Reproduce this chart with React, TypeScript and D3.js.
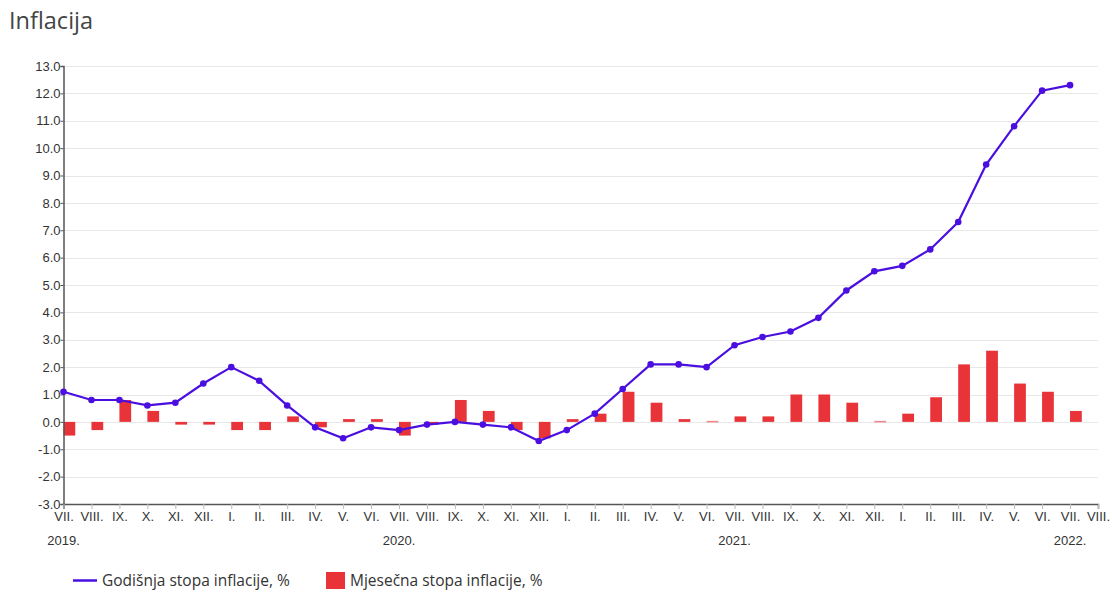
import React, { useRef, useEffect } from 'react';
import * as d3 from 'd3';

// mjeseci od VII. 2019. do VIII. 2022.
const months = [
  'VII.', 'VIII.', 'IX.', 'X.', 'XI.', 'XII.',
  'I.', 'II.', 'III.', 'IV.', 'V.', 'VI.', 'VII.', 'VIII.', 'IX.', 'X.', 'XI.', 'XII.',
  'I.', 'II.', 'III.', 'IV.', 'V.', 'VI.', 'VII.', 'VIII.', 'IX.', 'X.', 'XI.', 'XII.',
  'I.', 'II.', 'III.', 'IV.', 'V.', 'VI.', 'VII.', 'VIII.',
];
const years = ['2019.', '', '', '', '', '', '', '', '', '', '', '',
  '2020.', '', '', '', '', '', '', '', '', '', '', '',
  '2021.', '', '', '', '', '', '', '', '', '', '', '',
  '2022.', ''];

const annual = [
  1.1, 0.8, 0.8, 0.6, 0.7, 1.4,
  2.0, 1.5, 0.6, -0.2, -0.6, -0.2, -0.3, -0.1, 0.0, -0.1, -0.2, -0.7,
  -0.3, 0.3, 1.2, 2.1, 2.1, 2.0, 2.8, 3.1, 3.3, 3.8, 4.8, 5.5,
  5.7, 6.3, 7.3, 9.4, 10.8, 12.1, 12.3,
];
const monthly = [
  -0.5, -0.3, 0.8, 0.4, -0.1, -0.1,
  -0.3, -0.3, 0.2, -0.2, 0.1, 0.1, -0.5, -0.1, 0.8, 0.4, -0.3, -0.6,
  0.1, 0.3, 1.1, 0.7, 0.1, 0.0, 0.2, 0.2, 1.0, 1.0, 0.7, 0.0,
  0.3, 0.9, 2.1, 2.6, 1.4, 1.1, 0.4,
];
const yTicks = d3.range(-3, 14);

const lineColor = '#4a0fe0';
const barColor = '#e83338';
const tickFont = '"Liberation Sans", Arial, sans-serif';

const App = () => {
  const svgRef = useRef<SVGSVGElement>(null);

  useEffect(() => {
    if (!svgRef.current) return;
    const svg = d3.select(svgRef.current);
    svg.selectAll('*').remove();

    const width = 1112;
    const height = 592;
    const margin = { top: 66, right: 14, bottom: 88, left: 63.5 };
    const chartWidth = 1098 - margin.left;
    const chartHeight = height - margin.top - margin.bottom;

    svg.attr('width', width).attr('height', height).style('background', 'white');

    svg.append('text')
      .attr('x', 9)
      .attr('y', 29)
      .attr('font-family', '"Open Sans", sans-serif')
      .attr('font-size', 23.5)
      .attr('fill', '#444')
      .text('Inflacija');

    const g = svg.append('g').attr('transform', `translate(${margin.left},${margin.top})`);

    const x = d3.scalePoint<number>()
      .domain(months.map((_, i) => i))
      .range([0, chartWidth]);
    const y = d3.scaleLinear().domain([-3, 13]).range([chartHeight, 0]);
    const step = x.step();
    const barWidth = step * 0.42;

    // mreža
    g.append('g')
      .selectAll('line')
      .data(yTicks)
      .enter()
      .append('line')
      .attr('x1', 0)
      .attr('x2', chartWidth)
      .attr('y1', d => Math.round(y(d)) + 0.5)
      .attr('y2', d => Math.round(y(d)) + 0.5)
      .attr('stroke', '#e8e8e8')
      .attr('stroke-width', 1);

    // stupci
    g.append('g')
      .selectAll('rect')
      .data(monthly)
      .enter()
      .append('rect')
      .attr('x', (_, i) => x(i)!)
      .attr('width', barWidth)
      .attr('y', d => (d === 0 ? y(0) - 1 : Math.min(y(d), y(0))))
      .attr('height', d => (d === 0 ? 1.5 : Math.abs(y(d) - y(0))))
      .attr('fill', barColor)
      .attr('opacity', d => (d === 0 ? 0.6 : 1));

    // os Y
    const yAxis = g.append('g')
      .call(d3.axisLeft(y).tickValues(yTicks).tickSize(3).tickFormat(d => (d as number).toFixed(1)));
    yAxis.select('.domain').attr('stroke', '#555').attr('stroke-width', 1.5);
    yAxis.selectAll('.tick line').attr('stroke', '#555');
    yAxis.selectAll('.tick text')
      .attr('fill', '#333')
      .attr('font-size', 13)
      .attr('font-family', tickFont)
      .attr('x', -3);

    // os X
    const xAxis = g.append('g')
      .attr('transform', `translate(0,${chartHeight})`)
      .call(d3.axisBottom(x).tickSize(5).tickFormat(d => months[d as number]));
    xAxis.select('.domain').attr('stroke', '#555').attr('stroke-width', 1.5);
    xAxis.selectAll('.tick line').attr('stroke', '#bbb');
    xAxis.selectAll('.tick text')
      .attr('fill', '#333')
      .attr('font-size', 13)
      .attr('font-family', tickFont)
      .attr('y', 8);

    g.append('g')
      .selectAll('text')
      .data(years)
      .enter()
      .append('text')
      .attr('x', (_, i) => x(i)!)
      .attr('y', chartHeight + 41)
      .attr('text-anchor', 'middle')
      .attr('fill', '#333')
      .attr('font-size', 13)
      .attr('font-family', tickFont)
      .text(d => d);

    // linija
    const line = d3.line<number>()
      .x((_, i) => x(i)!)
      .y(d => y(d));

    g.append('path')
      .datum(annual)
      .attr('fill', 'none')
      .attr('stroke', lineColor)
      .attr('stroke-width', 2.2)
      .attr('d', line);

    g.append('g')
      .selectAll('circle')
      .data(annual)
      .enter()
      .append('circle')
      .attr('cx', (_, i) => x(i)!)
      .attr('cy', d => y(d))
      .attr('r', 3.3)
      .attr('fill', lineColor);

    // legenda
    const legend = svg.append('g').attr('font-family', '"Open Sans", sans-serif').attr('font-size', 15.5).attr('fill', '#333');
    legend.append('line')
      .attr('x1', 73).attr('x2', 97).attr('y1', 580.5).attr('y2', 580.5)
      .attr('stroke', lineColor).attr('stroke-width', 2.5);
    legend.append('text').attr('x', 102).attr('y', 586).text('Godišnja stopa inflacije, %');
    legend.append('rect')
      .attr('x', 326).attr('y', 572).attr('width', 19).attr('height', 17)
      .attr('fill', barColor);
    legend.append('text').attr('x', 350).attr('y', 586).text('Mjesečna stopa inflacije, %');
  }, []);

  return (
    <div style={{ position: 'absolute', left: 0, top: 0 }}>
      <svg ref={svgRef}></svg>
    </div>
  );
};

export default App;
